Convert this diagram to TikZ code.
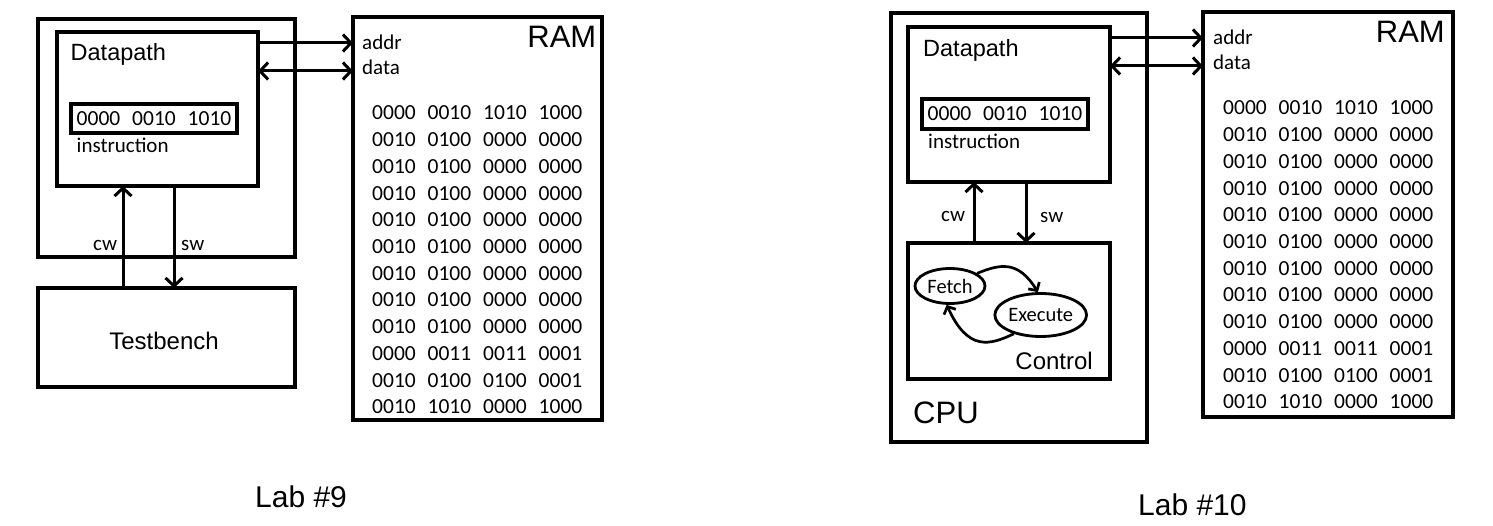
\documentclass[tikz,border=0pt]{standalone}
\usepackage{fontspec}
\setmainfont{Liberation Sans}
\newfontfamily\calfont{Carlito}
\newfontfamily\digfont[WordSpace=2.45]{Carlito}
\usetikzlibrary{arrows.meta,shapes.geometric}
\begin{document}
\begin{tikzpicture}[x=1pt,y=-1pt,
 box/.style={draw, line width=3.3pt, rectangle, inner sep=0pt, outer sep=0pt},
 arr/.style={line width=3pt, -{Straight Barb[length=8pt,width=17pt]}},
 darr/.style={line width=3pt, {Straight Barb[length=8pt,width=17pt]}-{Straight Barb[length=8pt,width=17pt]}},
 sarr/.style={line width=2.7pt, -{Straight Barb[length=6pt,width=13pt]}},
 lbl/.style={inner sep=0pt, font=\calfont\fontsize{21}{25}\selectfont},
 dig/.style={inner sep=0pt, font=\digfont\fontsize{21.5}{25}\selectfont},
 big/.style={inner sep=0pt, font=\fontsize{31}{36}\selectfont},
 mid/.style={inner sep=0pt, font=\fontsize{23.5}{28}\selectfont},
 st/.style={draw, ellipse, line width=2.8pt, inner sep=0pt, font=\calfont\fontsize{20.5}{24}\selectfont},
]
\useasboundingbox (0,0) rectangle (1493,526);

% ---------------- Lab 9 ----------------
\node[box, minimum width=257pt, minimum height=238pt] (outerL) at (166.5,138) {};
\node[box, minimum width=201pt, minimum height=154pt] (dpL) at (157.5,109) {};
\node[box, dig, minimum width=166pt, minimum height=29pt] (instrL) at (154,118.5) {0000 0010 1010};
\node[box, minimum width=257pt, minimum height=99pt] (tbL) at (166.5,337.5) {};
\node[box, minimum width=249pt, minimum height=403pt] (ramL) at (477.5,218.5) {};

\node[inner sep=0pt, font=\fontsize{24}{28}\selectfont] (tbLt) at (164,341) {Testbench};
\node[mid, anchor=base west] (dpLt) at (70.5,60.5) {Datapath};
\node[lbl, anchor=base west] (insLt) at (76.5,152.5) {instruction};
\node[big, anchor=base east] (ramLt) at (596.5,48) {RAM};
\node[lbl, anchor=base west] (addrL) at (362,49.3) {addr};
\node[lbl, anchor=base west] (dataL) at (362,75) {data};
\node[lbl, anchor=base west] (cwL) at (93,250.5) {cw};
\node[lbl, anchor=base west] (swL) at (181,250.5) {sw};

\foreach \t [count=\i from 0] in {0000 0010 1010 1000,0010 0100 0000 0000,0010 0100 0000 0000,0010 0100 0000 0000,0010 0100 0000 0000,0010 0100 0000 0000,0010 0100 0000 0000,0010 0100 0000 0000,0010 0100 0000 0000,0000 0011 0011 0001,0010 0100 0100 0001,0010 1010 0000 1000}
  \node[dig, anchor=base west] (rl\i) at ({372},{120+26.7*\i}) {\t};

\draw[arr] (dpL.east |- 0,43) -- (ramL.west |- 0,43);
\draw[darr] (dpL.east |- 0,71) -- (ramL.west |- 0,71);
\draw[arr] (tbL.north -| 123,0) -- (dpL.south -| 123,0);
\draw[arr] (dpL.south -| 174,0) -- (tbL.north -| 174,0);

\node[inner sep=0pt, anchor=base west, font=\fontsize{30}{36}\selectfont] (lab9) at (255,507.5) {Lab \#9};

% ---------------- Lab 10 ----------------
\node[box, minimum width=256pt, minimum height=429pt] (cpuR) at (1019,227.5) {};
\node[box, minimum width=202pt, minimum height=155pt] (dpR) at (1009,104.5) {};
\node[box, dig, minimum width=166pt, minimum height=30pt] (instrR) at (1005,114) {0000 0010 1010};
\node[box, minimum width=202pt, minimum height=136pt] (ctrlR) at (1009,311) {};
\node[box, minimum width=250pt, minimum height=405pt] (ramR) at (1328,214.5) {};

\node[mid, anchor=base west] (dpRt) at (923,56.7) {Datapath};
\node[lbl, anchor=base west] (insRt) at (928,149) {instruction};
\node[big, anchor=base east] (ramRt) at (1445,43) {RAM};
\node[lbl, anchor=base west] (addrR) at (1213,44.3) {addr};
\node[lbl, anchor=base west] (dataR) at (1213,70) {data};
\node[lbl, anchor=base west] (cwR) at (941,221.5) {cw};
\node[lbl, anchor=base west] (swR) at (1040,223) {sw};
\node[inner sep=0pt, anchor=base east, font=\fontsize{24}{28}\selectfont] (ctrlt) at (1093,370) {Control};
\node[big, anchor=base west] (cput) at (913,423) {CPU};

\foreach \t [count=\i from 0] in {0000 0010 1010 1000,0010 0100 0000 0000,0010 0100 0000 0000,0010 0100 0000 0000,0010 0100 0000 0000,0010 0100 0000 0000,0010 0100 0000 0000,0010 0100 0000 0000,0010 0100 0000 0000,0000 0011 0011 0001,0010 0100 0100 0001,0010 1010 0000 1000}
  \node[dig, anchor=base west] (rr\i) at ({1223},{115+26.7*\i}) {\t};

\draw[arr] (dpR.east |- 0,38) -- (ramR.west |- 0,38);
\draw[darr] (dpR.east |- 0,66) -- (ramR.west |- 0,66);
\draw[arr] (ctrlR.north -| 974,0) -- (dpR.south -| 974,0);
\draw[arr] (dpR.south -| 1026,0) -- (ctrlR.north -| 1026,0);

\node[st, minimum width=70pt, minimum height=35pt] (fetch) at (950,286) {Fetch};
\node[st, minimum width=88pt, minimum height=43pt] (exec) at (1040.7,315) {Execute};
\draw[sarr] (fetch.25) .. controls (1000,264) and (1018,260) .. (exec.97);
\draw[sarr] (exec.215) .. controls (990,345) and (968,352) .. (fetch.260);

\node[inner sep=0pt, anchor=base west, font=\fontsize{30}{36}\selectfont] (lab10) at (1138,515) {Lab \#10};
\end{tikzpicture}
\end{document}
